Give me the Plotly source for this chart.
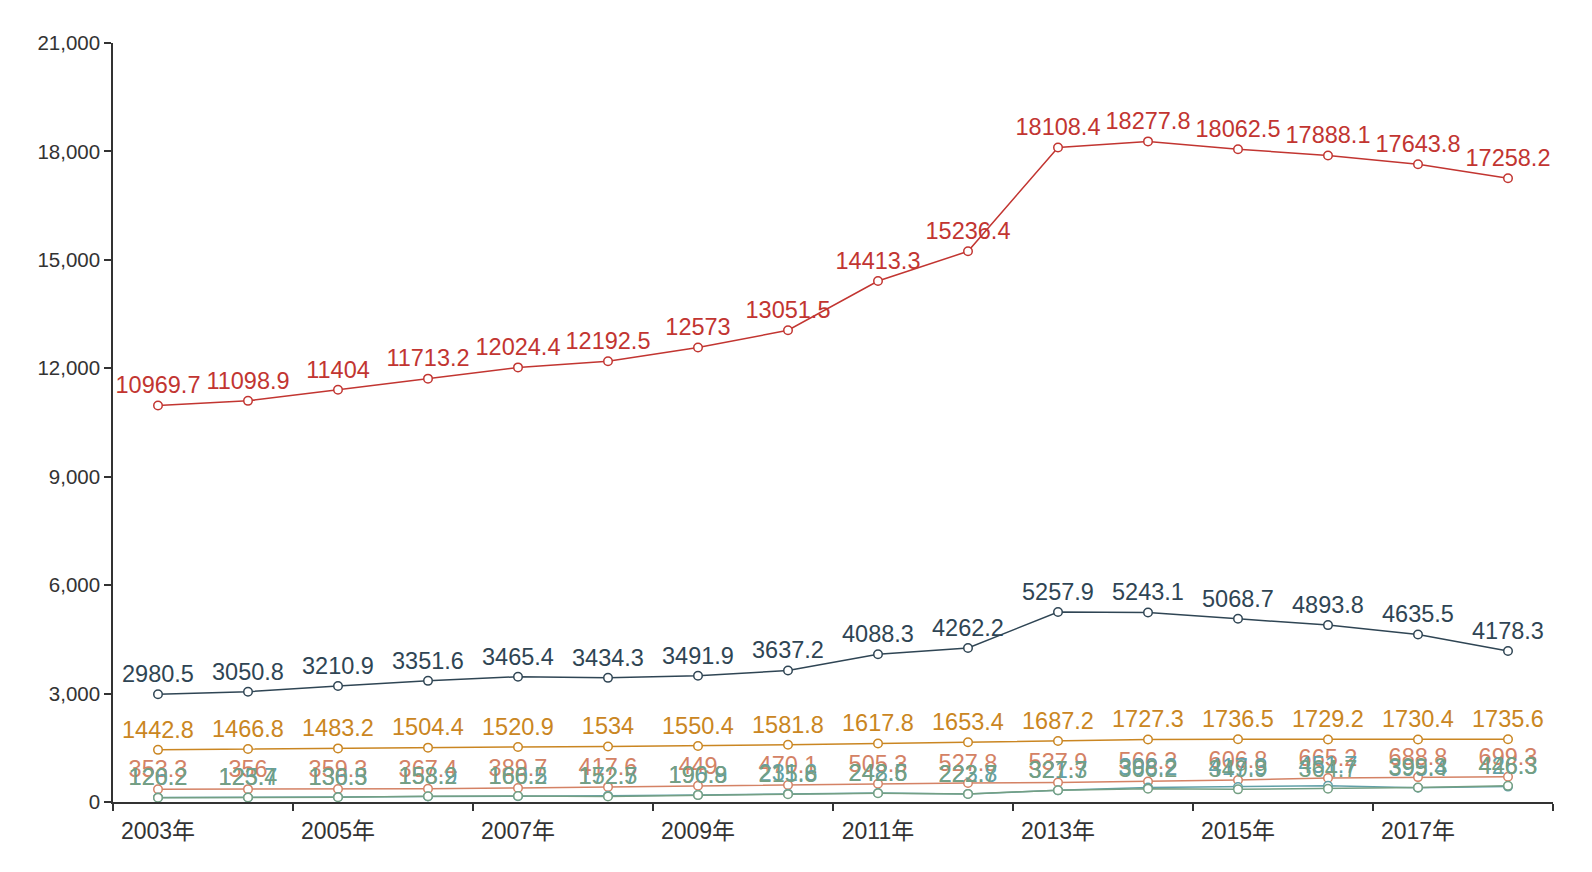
import plotly.graph_objects as go

years = ["2003年","2004年","2005年","2006年","2007年","2008年","2009年","2010年",
         "2011年","2012年","2013年","2014年","2015年","2016年","2017年","2018年"]

red_vals = [10969.7, 11098.9, 11404, 11713.2, 12024.4, 12192.5, 12573, 13051.5,
            14413.3, 15236.4, 18108.4, 18277.8, 18062.5, 17888.1, 17643.8, 17258.2]
navy_vals = [2980.5, 3050.8, 3210.9, 3351.6, 3465.4, 3434.3, 3491.9, 3637.2,
             4088.3, 4262.2, 5257.9, 5243.1, 5068.7, 4893.8, 4635.5, 4178.3]
orange_vals = [1442.8, 1466.8, 1483.2, 1504.4, 1520.9, 1534, 1550.4, 1581.8,
               1617.8, 1653.4, 1687.2, 1727.3, 1736.5, 1729.2, 1730.4, 1735.6]
salmon_vals = [353.3, 356, 359.3, 367.4, 389.7, 417.6, 449, 470.1,
               505.3, 527.8, 537.9, 566.3, 606.8, 665.2, 688.8, 699.3]
teal_vals = [126.2, 125.7, 136.5, 153.9, 160.5, 172.7, 196.9, 231.6,
             248.5, 223.8, 321.7, 398.2, 417.3, 451.7, 395.4, 426.3]
green_vals = [120.2, 123.4, 130.3, 158.2, 166.2, 152.5, 190.8, 215.8,
              242.6, 222.7, 327.3, 366.2, 349.9, 364.7, 399.3, 446.3]

y_ticks = [0, 3000, 6000, 9000, 12000, 15000, 18000, 21000]

series = [
    ("red", red_vals, "#c23531"),
    ("navy", navy_vals, "#2f4554"),
    ("orange", orange_vals, "#ca8622"),
    ("salmon", salmon_vals, "#d48265"),
    ("teal", teal_vals, "#61a0a8"),
    ("green", green_vals, "#749f83"),
]

FONT = "Liberation Sans, Arial, Noto Sans CJK SC, sans-serif"
fig = go.Figure()
idx = list(range(len(years)))
for name, vals, col in series:
    fig.add_trace(go.Scatter(
        x=idx, y=vals, name=name, mode="lines+markers+text",
        line=dict(color=col, width=1.5),
        marker=dict(symbol="circle", size=8.5, color="white",
                    line=dict(color=col, width=1.5)),
        text=[f"{v:g}" for v in vals], textposition="top center",
        textfont=dict(color=col, size=23.5, family=FONT),
        cliponaxis=False, showlegend=False,
    ))

# invisible trace on xaxis2 to carry the year labels
fig.add_trace(go.Scatter(x=idx, y=[None]*len(idx), xaxis="x2", showlegend=False,
                         hoverinfo="skip"))

boundaries = [i - 0.5 for i in range(0, len(years) + 1, 2)]
fig.update_layout(
    width=1600, height=868,
    margin=dict(l=105, r=55, t=35, b=74),
    plot_bgcolor="white", paper_bgcolor="white",
    font=dict(family=FONT, size=20, color="#333"),
    xaxis=dict(range=[-0.5, len(years) - 0.5], tickmode="array",
               tickvals=boundaries, ticktext=[""] * len(boundaries),
               ticks="outside", ticklen=7, tickcolor="#333", tickwidth=1.5,
               showline=True, linecolor="#333", linewidth=1.5,
               showgrid=False, zeroline=False),
    xaxis2=dict(range=[-0.5, len(years) - 0.5], overlaying="x", side="bottom",
                tickmode="array", tickvals=idx[::2], ticktext=years[::2],
                ticks="outside", ticklen=8, tickcolor="rgba(0,0,0,0)",
                showline=False, showgrid=False, zeroline=False,
                tickfont=dict(size=23, color="#333", family=FONT)),
    yaxis=dict(range=[0, 21000], tickmode="array", tickvals=y_ticks,
               ticktext=[f"{v:,}" for v in y_ticks],
               ticks="outside", ticklen=7, tickcolor="#333", tickwidth=1.5,
               showline=True, linecolor="#333", linewidth=1.5,
               showgrid=False, zeroline=False,
               tickfont=dict(size=20.5, color="#333", family=FONT)),
)
fig.write_html("out.html")
